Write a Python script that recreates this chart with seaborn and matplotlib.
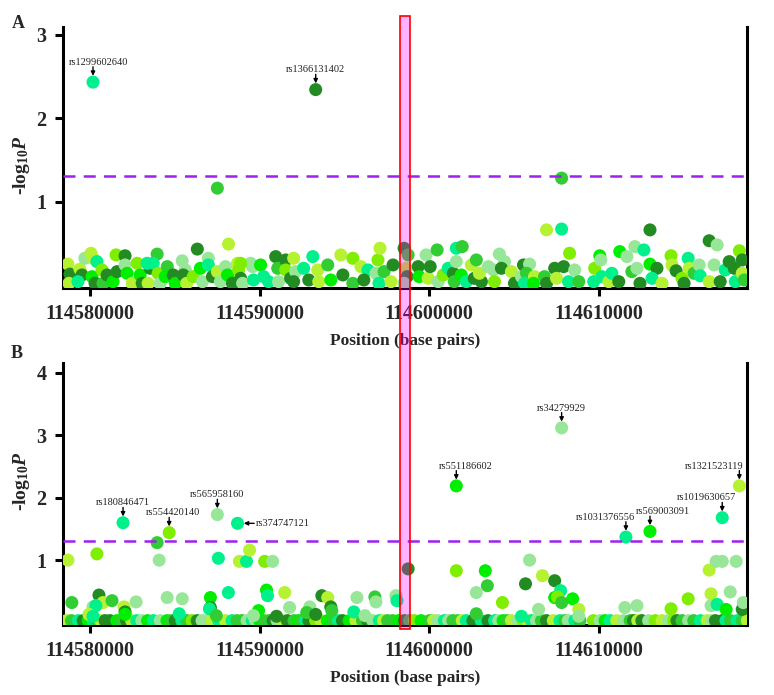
import matplotlib
matplotlib.use("Agg")
import matplotlib.pyplot as plt
import matplotlib.transforms as mtransforms
from matplotlib.patches import Rectangle
import pandas as pd
import seaborn as sns

# ------------------------------------------------------------
# Data (positions in kb, -log10 P, colour group)
# groups: d dark green, m lime green, b bright green, s spring green,
#         p pale green, y yellow-green, c chartreuse
# ------------------------------------------------------------
pos_a_kb = [
    114580.18, 114593.31, 114587.51, 114607.81, 114606.92, 114607.81, 114613.02, 114616.51, 114616.98, 114588.17,
    114586.33, 114618.29, 114618.46, 114578.70, 114578.82, 114578.76, 114579.41, 114579.53, 114579.29, 114579.70,
    114580.06, 114580.18, 114580.41, 114580.12, 114580.30, 114580.71, 114580.77, 114581.01, 114581.36, 114581.54,
    114582.07, 114581.60, 114582.07, 114582.19, 114582.49, 114582.78, 114582.96, 114583.08, 114583.55, 114583.43,
    114583.96, 114583.73, 114584.02, 114584.14, 114584.56, 114584.44, 114584.91, 114585.03, 114585.44, 114585.62,
    114585.50, 114585.70, 114586.09, 114586.51, 114586.63, 114586.98, 114586.98, 114587.22, 114587.51, 114587.69,
    114587.99, 114588.11, 114588.40, 114588.70, 114588.76, 114588.88, 114589.00, 114589.47, 114589.59, 114589.64,
    114590.06, 114590.24, 114590.53, 114590.95, 114591.07, 114591.12, 114591.54, 114591.54, 114591.83, 114583.37,
    114588.88, 114592.01, 114592.13, 114592.01, 114592.60, 114592.90, 114593.14, 114593.43, 114593.49, 114594.02,
    114594.20, 114594.79, 114594.91, 114595.50, 114595.50, 114595.98, 114596.39, 114596.15, 114596.86, 114596.98,
    114597.10, 114597.04, 114597.34, 114597.75, 114597.87, 114598.52, 114598.76, 114598.64, 114598.70, 114598.52,
    114599.35, 114599.41, 114599.82, 114599.94, 114600.06, 114600.47, 114600.53, 114600.83, 114601.12, 114601.42,
    114601.60, 114601.95, 114601.60, 114601.48, 114601.89, 114602.19, 114602.49, 114602.66, 114602.78, 114603.08,
    114602.96, 114603.49, 114603.79, 114603.85, 114604.14, 114604.44, 114604.26, 114604.85, 114605.03, 114605.44,
    114605.56, 114605.92, 114605.74, 114605.62, 114606.21, 114606.15, 114606.80, 114606.92, 114607.40, 114607.51,
    114607.93, 114608.28, 114608.22, 114608.58, 114608.82, 114609.76, 114609.70, 114610.06, 114610.12, 114610.18,
    114610.59, 114610.77, 114611.18, 114611.24, 114611.66, 114612.13, 114612.66, 114611.95, 114612.25, 114612.43,
    114613.02, 114613.43, 114613.14, 114613.73, 114614.26, 114614.32, 114614.56, 114614.91, 114615.03, 114615.27,
    114615.33, 114615.62, 114615.92, 114615.98, 114616.51, 114616.80, 114617.16, 114617.46, 114617.69, 114617.99,
    114618.05, 114618.46, 114618.58,
]
logp_a = [
    2.43, 2.34, 1.16, 1.28, 0.66, 0.67, 0.66, 0.53, 0.48, 0.49,
    0.43, 0.41, 0.30, 0.25, 0.13, 0.02, 0.19, 0.12, 0.04, 0.32,
    0.38, 0.32, 0.28, 0.10, 0.02, 0.18, 0.02, 0.12, 0.04, 0.36,
    0.35, 0.16, 0.24, 0.14, 0.02, 0.26, 0.12, 0.02, 0.20, 0.02,
    0.37, 0.26, 0.14, 0.02, 0.22, 0.10, 0.12, 0.02, 0.29, 0.18,
    0.12, 0.02, 0.10, 0.20, 0.04, 0.32, 0.24, 0.10, 0.16, 0.04,
    0.22, 0.12, 0.02, 0.26, 0.18, 0.08, 0.02, 0.26, 0.22, 0.06,
    0.24, 0.10, 0.04, 0.34, 0.20, 0.04, 0.30, 0.18, 0.08, 0.26,
    0.26, 0.32, 0.16, 0.04, 0.20, 0.06, 0.34, 0.18, 0.04, 0.24,
    0.06, 0.36, 0.12, 0.32, 0.02, 0.22, 0.18, 0.06, 0.14, 0.30,
    0.44, 0.02, 0.16, 0.04, 0.24, 0.44, 0.36, 0.20, 0.10, 0.02,
    0.22, 0.10, 0.36, 0.08, 0.22, 0.42, 0.04, 0.12, 0.20, 0.14,
    0.44, 0.46, 0.28, 0.04, 0.12, 0.04, 0.24, 0.08, 0.30, 0.04,
    0.14, 0.22, 0.18, 0.04, 0.37, 0.28, 0.20, 0.16, 0.02, 0.10,
    0.24, 0.25, 0.14, 0.02, 0.10, 0.02, 0.10, 0.02, 0.20, 0.08,
    0.22, 0.38, 0.04, 0.18, 0.04, 0.20, 0.04, 0.35, 0.30, 0.10,
    0.04, 0.14, 0.04, 0.40, 0.34, 0.46, 0.42, 0.16, 0.20, 0.02,
    0.25, 0.20, 0.08, 0.02, 0.35, 0.24, 0.17, 0.08, 0.02, 0.32,
    0.20, 0.14, 0.24, 0.11, 0.04, 0.24, 0.04, 0.18, 0.28, 0.20,
    0.04, 0.14, 0.06,
]
grp_a = ("sdmmysddpy dcdydyydsp yysbdcmdbc ddpbycbddy mscpmbdbpp dycbppsdyp "
         "pbdycdppps bssdmpdcds cypdsdsyym bydcmysdpc ysmyddmydp dbpydmpcsd "
         "smpmbsydmd yppcppdydp dpmsybmddy dcspmcsbps ysdbppsmpd bdsycydcds "
         "ympsypdsdd sym")

pos_b_kb = [
    114581.95, 114584.67, 114587.51, 114588.70, 114583.96, 114584.08, 114578.70, 114580.41, 114587.57, 114588.81,
    114589.23, 114589.41, 114590.30, 114590.77, 114601.60, 114607.81, 114618.29, 114617.28, 114613.02, 114611.60,
    114598.76, 114601.60, 114603.31, 114603.43, 114602.78, 114604.32, 114602.78, 114605.68, 114605.92, 114606.68,
    114607.40, 114607.75, 114607.40, 114607.57, 114607.81, 114608.46, 114608.82, 114608.82, 114606.45, 114611.54,
    114612.25, 114614.26, 114615.27, 114616.51, 114616.92, 114617.28, 114618.10, 114616.62, 114617.75, 114616.62,
    114616.98, 114617.51, 114618.46, 114618.52, 114605.44, 114578.93, 114580.53, 114580.77, 114580.18, 114580.35,
    114581.30, 114582.01, 114582.07, 114582.07, 114582.72, 114579.94, 114580.18, 114584.55, 114585.44, 114585.26,
    114587.10, 114587.10, 114587.04, 114587.45, 114588.16, 114590.41, 114590.47, 114591.48, 114589.94, 114591.00,
    114591.77, 114589.64, 114593.67, 114594.02, 114594.20, 114594.26, 114592.96, 114592.78, 114593.31, 114595.74,
    114596.80, 114596.86, 114598.04, 114598.10, 114595.56, 114596.21,
]
logp_b = [
    1.60, 1.44, 1.73, 1.59, 1.28, 1.00, 1.00, 1.10, 1.03, 0.98,
    0.98, 1.16, 0.98, 0.98, 2.19, 3.12, 2.19, 1.68, 1.46, 1.37,
    0.86, 0.83, 0.83, 0.59, 0.48, 0.32, 0.14, 0.62, 1.00, 0.75,
    0.67, 0.51, 0.40, 0.41, 0.32, 0.38, 0.21, 0.10, 0.21, 0.24,
    0.27, 0.22, 0.38, 0.84, 0.98, 0.98, 0.98, 0.46, 0.49, 0.27,
    0.29, 0.21, 0.21, 0.32, 0.10, 0.32, 0.44, 0.32, 0.25, 0.27,
    0.35, 0.25, 0.17, 0.13, 0.33, 0.13, 0.10, 0.40, 0.38, 0.14,
    0.40, 0.24, 0.22, 0.11, 0.48, 0.52, 0.43, 0.48, 0.19, 0.10,
    0.24, 0.11, 0.43, 0.40, 0.25, 0.19, 0.25, 0.16, 0.13, 0.40,
    0.41, 0.33, 0.43, 0.35, 0.17, 0.11,
]
grp_b = ("scpsmpycsy sycpbpysbs dcbmpcmdpy dsbcmbyppp pccypppypp sbdpsmdyps "
         "mydbpyspps bdsmsbsybd ppdydmpmdp mppssp")

# the dense row of SNPs sitting on the axis in panel B
floor_b_kb = [
    114578.62, 114578.91, 114579.31, 114579.60, 114579.90, 114580.19, 114580.39, 114580.64, 114580.89, 114581.18,
    114581.58, 114581.87, 114582.16, 114582.46, 114582.76, 114583.06, 114583.40, 114583.74, 114584.14, 114584.54,
    114584.80, 114585.03, 114585.42, 114585.72, 114586.02, 114586.32, 114586.61, 114586.90, 114587.20, 114587.59,
    114587.99, 114588.38, 114588.68, 114588.97, 114589.27, 114589.57, 114589.76, 114590.00, 114590.25, 114590.55,
    114590.80, 114591.04, 114591.34, 114591.64, 114592.03, 114592.30, 114592.50, 114592.72, 114592.91, 114593.10,
    114593.31, 114593.61, 114594.00, 114594.39, 114594.65, 114594.89, 114595.28, 114595.68, 114596.07, 114596.37,
    114596.67, 114597.06, 114597.30, 114597.55, 114597.85, 114598.20, 114598.54, 114598.84, 114599.13, 114599.52,
    114600.02, 114600.26, 114600.51, 114600.90, 114601.15, 114601.40, 114601.69, 114601.95, 114602.19, 114602.58,
    114602.83, 114603.07, 114603.47, 114603.86, 114604.10, 114604.36, 114604.60, 114604.85, 114605.25, 114605.54,
    114605.80, 114606.03, 114606.33, 114606.62, 114606.92, 114607.32, 114607.71, 114608.00, 114608.20, 114608.59,
    114608.89, 114609.68, 114610.08, 114610.37, 114610.67, 114611.06, 114611.46, 114611.85, 114612.05, 114612.30,
    114612.54, 114612.94, 114613.33, 114613.73, 114614.12, 114614.42, 114614.61, 114614.91, 114615.30, 114615.60,
    114615.99, 114616.39, 114616.65, 114616.88, 114617.28, 114617.50, 114617.77, 114618.16, 114618.46, 114618.76,
]
floor_b_grp = ("ymsdbsmydd bmdyspbspb mdsmcdppys ysmmpspbmm dpydmbmsdd "
               "cybmsdbymd psymmbdmcb mypspmmysd dsdspbmypc yspmdysmps "
               "mcpbsypmdy dpcypcdmpm sypddsmsmy")
floor_b_logp = 0.03

hits_a = ["rs1299602640", "rs1366131402"]
hits_a_kb = [114580.18, 114593.31]
hits_b = ["rs180846471", "rs554420140", "rs565958160", "rs374747121", "rs551186602",
          "rs34279929", "rs1031376556", "rs569003091", "rs1019630657", "rs1321523119"]
hits_b_kb = [114581.95, 114584.67, 114587.51, 114588.70, 114601.60,
             114607.81, 114611.60, 114613.02, 114617.28, 114618.29]

xtick_pos = [114580000, 114590000, 114600000, 114610000]
sig_line = 1.301  # -log10(0.05)
highlight_kb = (114598.28, 114598.87)

# ------------------------------------------------------------
# Styling
# ------------------------------------------------------------
sns.set_style("ticks")
plt.rcParams["font.family"] = ["Liberation Serif", "DejaVu Serif"]
plt.rcParams["mathtext.fontset"] = "custom"
plt.rcParams["mathtext.rm"] = "Liberation Serif:bold"
plt.rcParams["mathtext.it"] = "Liberation Serif:bold:italic"
plt.rcParams["mathtext.bf"] = "Liberation Serif:bold"

palette = {"d": "#228B22", "m": "#32CD32", "b": "#00EE00", "s": "#00F08C",
           "p": "#98E698", "y": "#B6F232", "c": "#7FEE00"}

# label nudges in points (x) ; rs374747121 is labelled from the right
label_dx = {"rs1299602640": 4, "rs551186602": 7, "rs554420140": 3,
            "rs1031376556": -15, "rs569003091": 9, "rs1019630657": -11.5,
            "rs1321523119": -18}


def clean(s):
    return list(s.replace(" ", ""))


df_a = pd.DataFrame({"pos": [p * 1000 for p in pos_a_kb], "logp": logp_a, "grp": clean(grp_a)})
df_b = pd.concat([
    pd.DataFrame({"pos": [p * 1000 for p in floor_b_kb], "logp": floor_b_logp, "grp": clean(floor_b_grp)}),
    pd.DataFrame({"pos": [p * 1000 for p in pos_b_kb], "logp": logp_b, "grp": clean(grp_b)}),
], ignore_index=True)

fig = plt.figure(figsize=(7.74, 6.95), dpi=100)
ax_a = fig.add_axes([63 / 774, 1 - 288 / 695, 684 / 774, 261 / 695])
ax_b = fig.add_axes([63 / 774, 1 - 625 / 695, 684 / 774, 262 / 695])


def draw_panel(ax, df, yticks, ylim, names, name_kb, ylab_y):
    sns.scatterplot(data=df, x="pos", y="logp", hue="grp", palette=palette, s=88,
                    linewidth=0, legend=False, ax=ax, zorder=3)
    ax.axhline(sig_line, color="#A020F0", lw=1.8, ls=(0, (4.8, 3.3)), zorder=4)
    ax.set_xlim(114578410, 114618740)
    ax.set_ylim(*ylim)
    ax.set_xticks(xtick_pos)
    ax.set_xticklabels([str(t) for t in xtick_pos])
    ax.set_yticks(yticks)
    ax.set_yticklabels([str(t) for t in yticks])
    ax.tick_params(axis="both", length=5.8, width=2.2, pad=6, labelsize=14.5, color="black")
    for lab in ax.get_xticklabels() + ax.get_yticklabels():
        lab.set_fontweight("bold")
    ax.spines["top"].set_visible(False)
    for side in ["left", "right", "bottom"]:
        ax.spines[side].set_linewidth(2.2)
        ax.spines[side].set_color("black")
    ax.set_xlabel("Position (base pairs)", fontsize=12.5, fontweight="bold")
    ax.xaxis.set_label_coords(0.5, -0.172)
    ax.set_ylabel(r"-log$_{\mathrm{10}}\mathit{P}$", fontsize=14, fontweight="bold")
    ax.yaxis.set_label_coords(-0.045, ylab_y)

    for name, kb in zip(names, name_kb):
        x = kb * 1000
        y = df.loc[(df["pos"] - x).abs() < 1, "logp"].max()
        if name == "rs374747121":
            ax.annotate("", xy=(x, y), xytext=(12, 0), textcoords="offset points",
                        arrowprops=dict(arrowstyle="-|>", color="black", lw=1,
                                        shrinkA=0, shrinkB=4.5, mutation_scale=6))
            ax.annotate(name, xy=(x, y), xytext=(13, 0), textcoords="offset points",
                        ha="left", va="center", fontsize=7.5, color="#222222")
        else:
            ax.annotate("", xy=(x, y), xytext=(0, 11), textcoords="offset points",
                        arrowprops=dict(arrowstyle="-|>", color="black", lw=1,
                                        shrinkA=0, shrinkB=4.5, mutation_scale=6))
            ax.annotate(name, xy=(x, y), xytext=(label_dx.get(name, 0), 11),
                        textcoords="offset points", ha="center", va="bottom",
                        fontsize=7.5, color="#222222")


draw_panel(ax_a, df_a, [1, 2, 3], (-0.036, 3.09), hits_a, hits_a_kb, 0.471)
draw_panel(ax_b, df_b, [1, 2, 3, 4], (-0.04, 4.16), hits_b, hits_b_kb, 0.55)

# highlighted region spanning both panels
trans = mtransforms.blended_transform_factory(ax_a.transData, fig.transFigure)
rect = Rectangle((highlight_kb[0] * 1000, 1 - 629 / 695),
                 (highlight_kb[1] - highlight_kb[0]) * 1000, (629 - 16) / 695,
                 transform=trans, facecolor=(1, 0, 1, 0.3), edgecolor=(1, 0, 0, 1),
                 lw=1.2, zorder=10)
fig.add_artist(rect)

fig.text(18 / 774, 1 - 23 / 695, "A", fontsize=13, fontweight="bold", ha="center", va="center")
fig.text(17 / 774, 1 - 353 / 695, "B", fontsize=13, fontweight="bold", ha="center", va="center")

fig.savefig("out.png", dpi=100)
